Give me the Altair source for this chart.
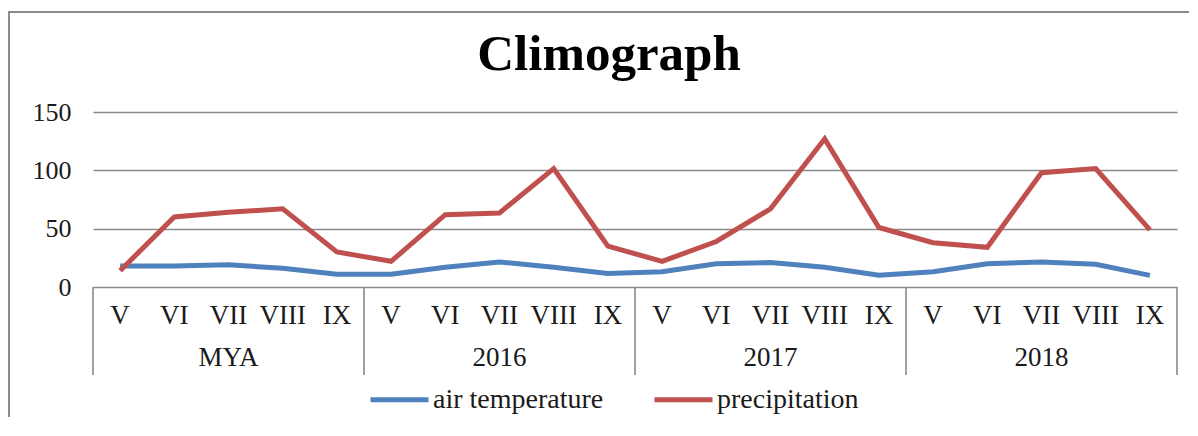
import altair as alt
import pandas as pd

groups = ["MYA", "2016", "2017", "2018"]
months = ["V", "VI", "VII", "VIII", "IX"]
air_temperature = [18, 18, 19, 16, 11,
                   11, 17, 21.5, 17, 11.5,
                   13, 20, 21, 17, 10,
                   13, 20, 21.5, 19.5, 10]
precipitation = [14, 60, 64, 67, 30,
                 22, 62, 63.5, 101.5, 35,
                 22, 39, 67, 127, 51,
                 38, 34, 98, 101.5, 49]
series_names = ["air temperature", "precipitation"]
series_colors = ["#4F81BD", "#C0504D"]
y_ticks = [0, 50, 100, 150]

FONT = "Liberation Serif"
TXT = "#1a1a1a"
GRID = "#8a8a8a"
W, H = 1084, 175

n = len(groups) * len(months)
rows = []
for name, vals in zip(series_names, [air_temperature, precipitation]):
    for i in range(n):
        rows.append({"idx": i, "series": name, "value": vals[i]})
df = pd.DataFrame(rows)

df_months = pd.DataFrame({"idx": list(range(n)),
                          "month": [months[i % len(months)] for i in range(n)]})
df_groups = pd.DataFrame({"center": [g * len(months) + (len(months) - 1) / 2 for g in range(len(groups))],
                          "group": groups})
df_sep = pd.DataFrame({"pos": [g * len(months) - 0.5 for g in range(len(groups) + 1)]})
one = pd.DataFrame({"t": ["Climograph"]})

xscale = alt.Scale(domain=[-0.5, n - 0.5], nice=False, zero=False)

lines = alt.Chart(df).mark_line(strokeWidth=5).encode(
    x=alt.X("idx:Q", scale=xscale, axis=None),
    y=alt.Y("value:Q", scale=alt.Scale(domain=[0, 150], nice=False),
            axis=alt.Axis(values=y_ticks, title=None, grid=True, gridColor=GRID,
                          gridWidth=1.6, domain=False, ticks=False,
                          labelFont=FONT, labelFontSize=26, labelColor=TXT,
                          labelPadding=22)),
    color=alt.Color("series:N", sort=series_names,
                    scale=alt.Scale(domain=series_names, range=series_colors),
                    legend=alt.Legend(orient="none", legendX=275, legendY=256,
                                      direction="horizontal", title=None,
                                      symbolType="stroke", symbolStrokeWidth=5,
                                      symbolSize=3364, labelFont=FONT,
                                      labelFontSize=28, labelColor=TXT,
                                      labelLimit=400,
                                      labelOffset=2, columnPadding=40)),
    order=alt.Order("idx:Q"),
)

month_text = alt.Chart(df_months).mark_text(font=FONT, fontSize=27, color=TXT,
                                             baseline="middle").encode(
    x=alt.X("idx:Q", scale=xscale, axis=None),
    y=alt.value(204),
    text="month:N",
)

group_text = alt.Chart(df_groups).mark_text(font=FONT, fontSize=27, color=TXT,
                                             baseline="middle").encode(
    x=alt.X("center:Q", scale=xscale, axis=None),
    y=alt.value(246),
    text="group:N",
)

seps = alt.Chart(df_sep).mark_rule(color=GRID, strokeWidth=1.6).encode(
    x=alt.X("pos:Q", scale=xscale, axis=None),
    y=alt.value(H),
    y2=alt.value(263),
)

title = alt.Chart(one).mark_text(font=FONT, fontSize=51, fontWeight="bold",
                                  color="#000000", baseline="alphabetic").encode(
    x=alt.value(516),
    y=alt.value(-42),
    text="t:N",
)

frame = alt.Chart(one).mark_rect(fill=None, stroke="#8c8c8c", strokeWidth=2).encode(
    x=alt.value(-84),
    x2=alt.value(1130),
    y=alt.value(-100),
    y2=alt.value(340),
)

chart = alt.layer(frame, seps, lines, month_text, group_text, title).properties(
    width=W, height=H,
    autosize=alt.AutoSizeParams(type="none"),
    padding={"left": 85, "top": 104, "right": 12, "bottom": 130},
    background="white",
).configure_view(stroke=None)

chart.save("out.html", embed_options={"renderer": "svg", "actions": False})
